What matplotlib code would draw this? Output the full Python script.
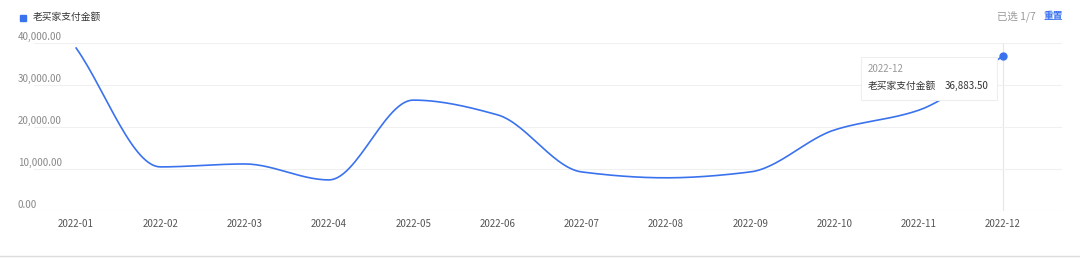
import numpy as np
import matplotlib
matplotlib.use("Agg")
import matplotlib.pyplot as plt
from matplotlib.patches import Rectangle, FancyBboxPatch

plt.rcParams['font.family'] = ['Noto Sans CJK SC', 'DejaVu Sans']

months = ["2022-01", "2022-02", "2022-03", "2022-04", "2022-05", "2022-06",
          "2022-07", "2022-08", "2022-09", "2022-10", "2022-11", "2022-12"]
old_buyer_pay = [38800, 10500, 11200, 7400, 26400, 22900,
                 9300, 7900, 9300, 19300, 24000, 36883.50]
y_ticks = [0, 10000, 20000, 30000, 40000]
series_name = "老买家支付金额"
blue = "#3a72ee"


def monotone_curve(xs, ys, n=30):
    # monotone cubic hermite, close to echarts smooth line
    xs = np.asarray(xs, float)
    ys = np.asarray(ys, float)
    h = np.diff(xs)
    d = np.diff(ys) / h
    m = np.zeros_like(ys)
    m[0], m[-1] = d[0], d[-1]
    for i in range(1, len(ys) - 1):
        if d[i - 1] * d[i] > 0:
            m[i] = 2 / (1 / d[i - 1] + 1 / d[i])
    px, py = [], []
    for i in range(len(xs) - 1):
        t = np.linspace(0, 1, n)
        h00 = 2 * t**3 - 3 * t**2 + 1
        h10 = t**3 - 2 * t**2 + t
        h01 = -2 * t**3 + 3 * t**2
        h11 = t**3 - t**2
        px.extend(xs[i] + t * h[i])
        py.extend(h00 * ys[i] + h10 * h[i] * m[i] + h01 * ys[i + 1] + h11 * h[i] * m[i + 1])
    return np.array(px), np.array(py)


fig = plt.figure(figsize=(10.8, 2.58), dpi=100)
# category step is ~84.3px, grid runs a bit past the last category
ax = fig.add_axes([34 / 1080, 1 - 211 / 258, (1062 - 34) / 1080, 168 / 258])

x = np.arange(len(months))
cx, cy = monotone_curve(x, old_buyer_pay)
ax.plot(cx, cy, color=blue, lw=1.2, zorder=3)
ax.plot(x[-1], old_buyer_pay[-1], "o", color=blue, ms=5, zorder=4)
ax.axvline(x[-1], color="#e6e6e6", lw=0.8, zorder=1)

ax.set_xlim(-0.5, len(months) - 0.5 + 0.2)
ax.set_ylim(0, 40000)
ax.set_yticks(y_ticks)
ax.set_yticklabels([])
ax.set_xticks(x)
ax.set_xticklabels(months, fontsize=7, color="#555555")
ax.tick_params(axis="x", length=0, pad=6)
ax.tick_params(axis="y", length=0)
ax.grid(axis="y", color="#f0f0f0", lw=0.8)
for s in ax.spines.values():
    s.set_visible(False)
ax.axhline(0, color="#eeeeee", lw=0.8)

# y labels sit above gridlines
for v in y_ticks:
    ax.annotate(f"{v:,.2f}", xy=(0, v), xycoords=("figure fraction", "data"),
                xytext=(18, 6), textcoords="offset pixels", fontsize=7,
                color="#888888", va="center", ha="left", annotation_clip=False)

# legend
fig.patches.append(Rectangle((20 / 1080, 1 - 21 / 258), 6 / 1080, 6 / 258,
                             transform=fig.transFigure, color=blue))
fig.text(33 / 1080, 1 - 17 / 258, series_name, fontsize=7, color="#333333", va="center")
fig.text(1036 / 1080, 1 - 16 / 258, "已选 1/7", fontsize=7.5, color="#999999",
         va="center", ha="right")
fig.text(1044 / 1080, 1 - 16 / 258, "重置", fontsize=7, color=blue,
         va="center", ha="left", fontweight="bold")

# tooltip
fig.patches.append(FancyBboxPatch((861 / 1080, 1 - 100 / 258), 136 / 1080, 43 / 258,
                                  boxstyle="square,pad=0", transform=fig.transFigure,
                                  facecolor="white", edgecolor="#eeeeee", lw=0.8, zorder=5))
fig.text(868 / 1080, 1 - 69 / 258, months[-1], fontsize=7, color="#999999",
         va="center", zorder=6)
fig.text(868 / 1080, 1 - 86 / 258, series_name, fontsize=7, color="#333333",
         va="center", zorder=6)
fig.text(989 / 1080, 1 - 86 / 258, f"{old_buyer_pay[-1]:,.2f}", fontsize=7,
         color="#333333", va="center", ha="right", zorder=6)

# bottom divider
fig.add_artist(plt.Line2D([0, 1], [1 - 256 / 258] * 2, color="#dddddd", lw=1))

fig.savefig("out.png", dpi=100, facecolor="white")
